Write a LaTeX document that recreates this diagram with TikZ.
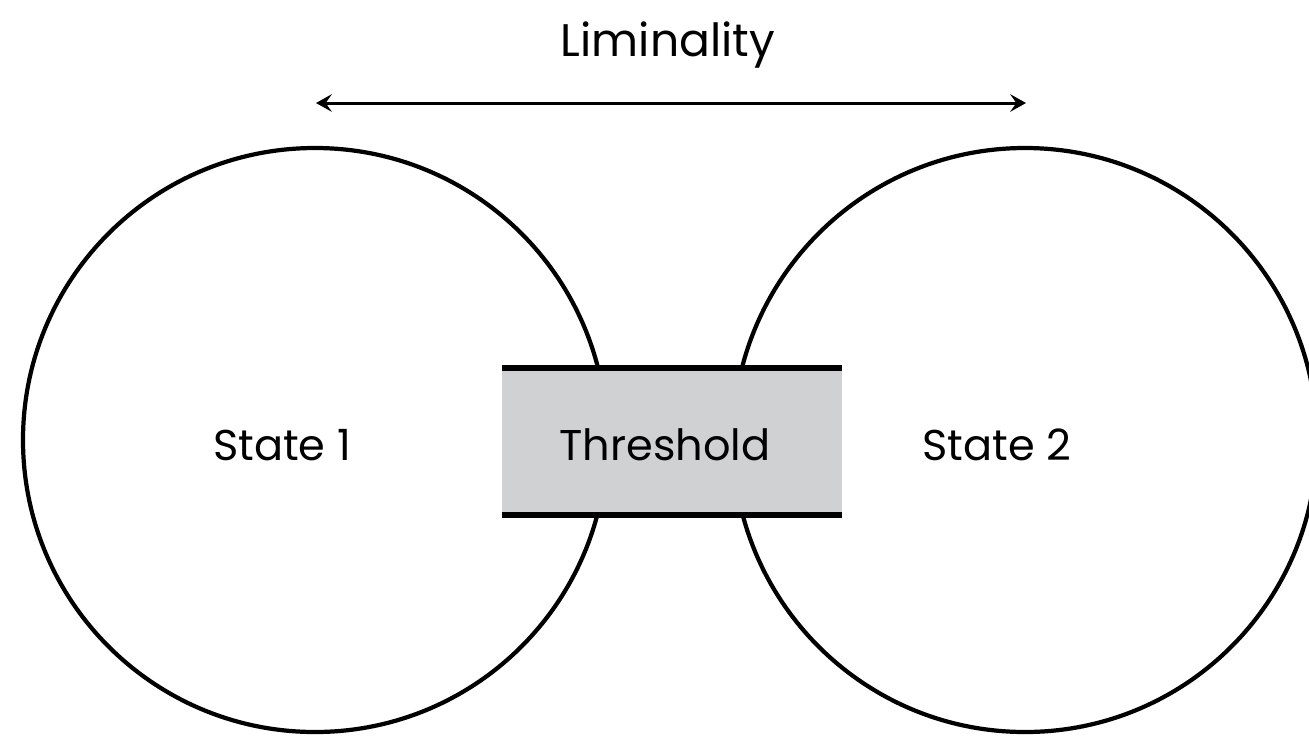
\documentclass[tikz,border=0pt]{standalone}
\usepackage{fontspec}
\setmainfont{Poppins}
\usetikzlibrary{arrows.meta}

\begin{document}
\begin{tikzpicture}[x=0.02cm, y=-0.02cm,
    state/.style={circle, draw=black, line width=2.4pt, minimum size=584*0.02cm, inner sep=0pt},
    label/.style={font=\fontsize{24.5}{29}\selectfont},
    gate/.style={fill=gatefill, minimum width=340*0.02cm, minimum height=147*0.02cm, inner sep=0pt}]

  \definecolor{gatefill}{RGB}{208,209,211}
  \useasboundingbox (0,0) rectangle (1309,735);

  % States
  \node[state] (s1) at (315,440) {};
  \node[state] (s2) at (1025,440) {};
  \node[label] (t1) at (282,445) {State 1};
  \node[label] (t2) at (997,445) {State 2};

  % Threshold
  \node[gate] (gate) at (672,441.5) {};
  \node[label] (tg) at (665,445) {Threshold};
  \draw[line width=3.4pt] (gate.north west) -- (gate.north east);
  \draw[line width=3.4pt] (gate.south west) -- (gate.south east);

  % Liminality
  \node[label, font=\fontsize{26}{30}\selectfont] (lim) at (668,45) {Liminality};
  \coordinate (limL) at (316,103);
  \coordinate (limR) at (1026,103);
  \draw[{Stealth[length=9pt,width=10pt,inset=3.5pt]}-{Stealth[length=9pt,width=10pt,inset=3.5pt]}, line width=1.7pt] (limL) -- (limR);

\end{tikzpicture}
\end{document}
